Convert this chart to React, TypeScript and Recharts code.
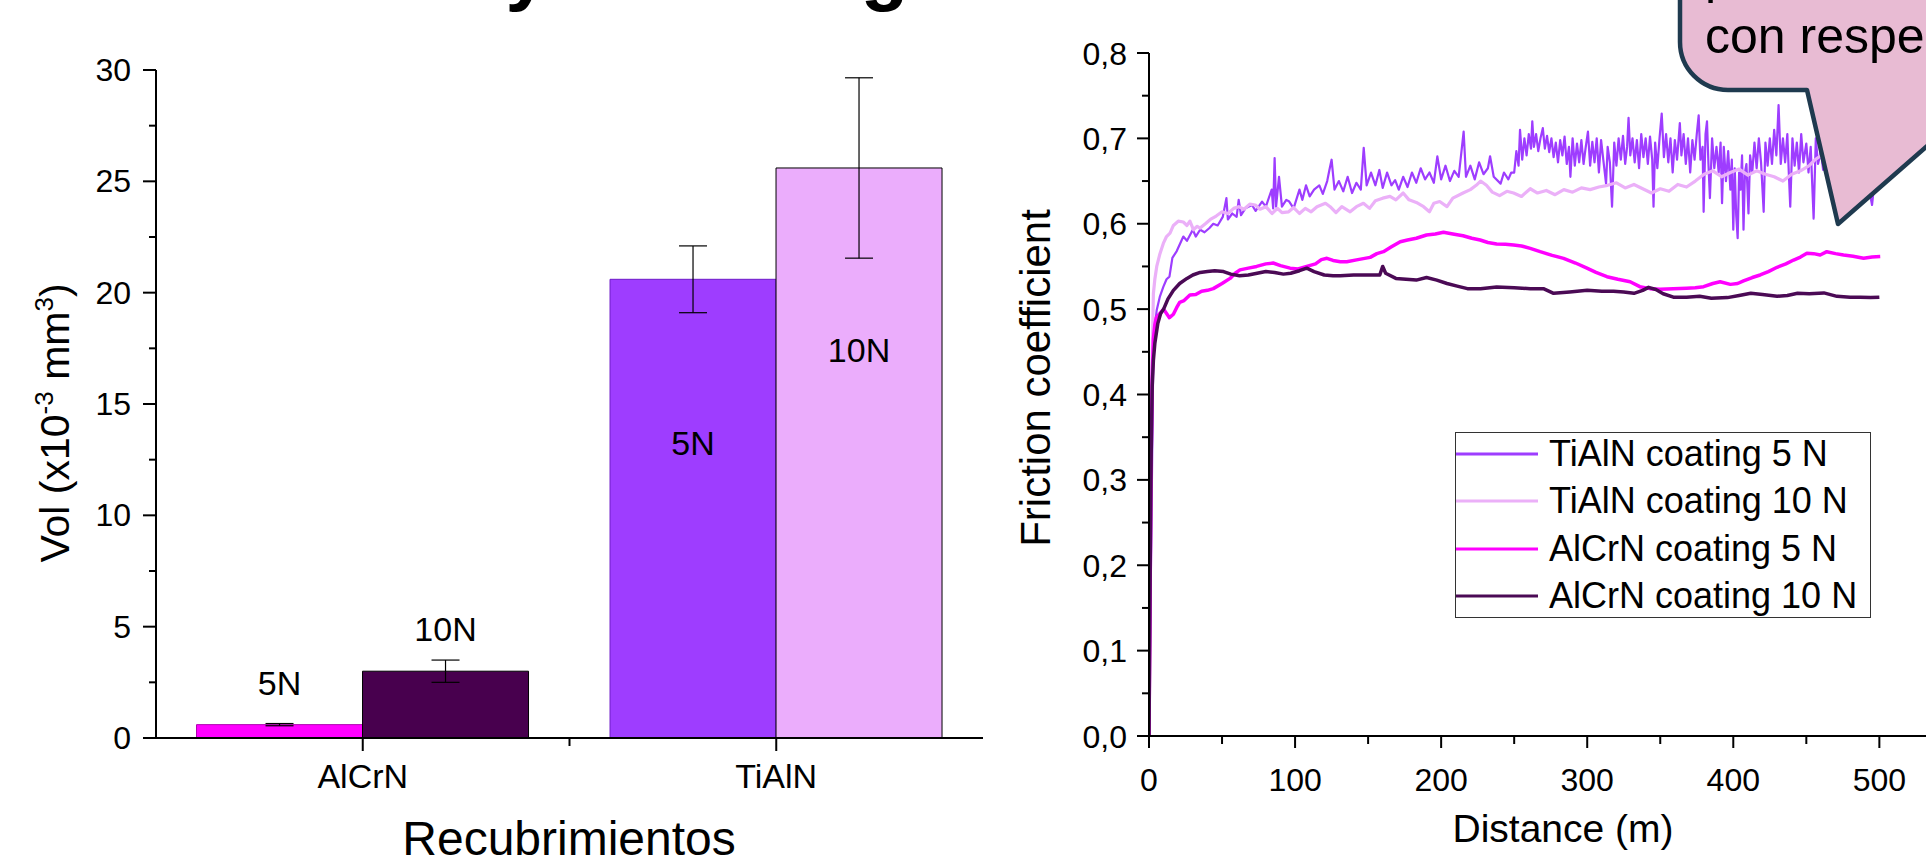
import React from 'react';
import { BarChart, Bar, Cell, ErrorBar, LabelList, LineChart, Line, XAxis, YAxis, Legend } from 'recharts';

const FONT = '"Liberation Sans", Arial, Helvetica, sans-serif';

// wear volume, x10^-3 mm^3
const coatings = ['AlCrN', 'TiAlN'];
const vol5N = [0.6, 20.6];
const vol10N = [3.0, 25.6];
const err5N = [0.05, 1.5];
const err10N = [0.5, 4.05];
const volTicks = [0, 2.5, 5, 7.5, 10, 12.5, 15, 17.5, 20, 22.5, 25, 27.5, 30];

// friction coefficient vs distance (m)
const distTicks = [0, 50, 100, 150, 200, 250, 300, 350, 400, 450, 500, 550];
const frictionTicks = [0, 0.05, 0.1, 0.15, 0.2, 0.25, 0.3, 0.35, 0.4, 0.45, 0.5, 0.55, 0.6, 0.65, 0.7, 0.75, 0.8];
const seriesNames = ['TiAlN coating 5 N', 'TiAlN coating 10 N', 'AlCrN coating 5 N', 'AlCrN coating 10 N'];

const tialn5N: [number, number][] = [
  [0, 0], [1, 0.15], [2, 0.3], [3, 0.457], [4, 0.48], [5.3, 0.499], [7.5, 0.515], [9.8, 0.526], [12, 0.535], [14, 0.538],
  [16, 0.56], [19, 0.568], [23.5, 0.585], [26, 0.58], [30, 0.593], [32, 0.585], [35, 0.593], [38, 0.59], [41.4, 0.595], [44, 0.6],
  [47, 0.598], [50.5, 0.608], [53, 0.63], [54, 0.605], [57, 0.612], [60, 0.608], [61.4, 0.628], [63, 0.61], [66, 0.618], [70.5, 0.622],
  [73, 0.615], [77.4, 0.626], [80, 0.62], [84, 0.64], [85, 0.618], [86, 0.677], [87, 0.62], [89, 0.655], [91, 0.62], [94, 0.628],
  [96, 0.626], [99, 0.618], [103, 0.64], [105, 0.628], [107.5, 0.645], [110, 0.632], [113, 0.64], [116.6, 0.645], [119, 0.635], [122, 0.65],
  [123.5, 0.663], [125, 0.675], [127, 0.64], [130, 0.65], [133, 0.638], [136, 0.655], [139, 0.636], [142, 0.648], [145, 0.64], [147, 0.689],
  [149, 0.645], [152, 0.66], [155, 0.645], [157.7, 0.663], [160, 0.642], [163, 0.66], [166, 0.645], [168.5, 0.651], [171, 0.64], [174, 0.655],
  [177, 0.643], [180, 0.66], [183, 0.648], [186, 0.665], [189, 0.652], [192, 0.66], [195, 0.648], [197.4, 0.679], [200, 0.652], [203, 0.668],
  [206, 0.65], [209, 0.662], [212, 0.655], [215.4, 0.708], [217, 0.655], [220, 0.668], [223, 0.652], [226, 0.672], [229, 0.658], [232, 0.665],
  [233.5, 0.679], [236, 0.655], [240.7, 0.647], [243, 0.66], [246, 0.652], [248, 0.66],
  [250, 0.66], [251.5, 0.685], [253, 0.668], [254, 0.71], [255.5, 0.675], [257, 0.7], [258.5, 0.68], [260, 0.705], [261.5, 0.688], [262.4, 0.72],
  [263.5, 0.69], [265, 0.705], [266.5, 0.685], [268, 0.7], [269.6, 0.712], [271, 0.688], [272.5, 0.703], [274, 0.684], [275.5, 0.7], [277, 0.678],
  [278.5, 0.695], [280, 0.672], [281.5, 0.698], [283, 0.68], [284.5, 0.702], [286, 0.67], [287.5, 0.69], [288.5, 0.655], [290, 0.7], [291.5, 0.668],
  [293, 0.694], [294.5, 0.672], [296, 0.698], [297.5, 0.67], [299, 0.69], [300.5, 0.708], [302, 0.668], [303.5, 0.696], [305, 0.672], [306.5, 0.7],
  [308, 0.66], [309.5, 0.698], [311, 0.675], [312.9, 0.647], [314, 0.69], [315.5, 0.672], [317, 0.62], [318.5, 0.695], [320, 0.668], [321.5, 0.7],
  [323, 0.675], [324.5, 0.703], [326, 0.67], [327.3, 0.69], [328.3, 0.724], [329.5, 0.68], [331, 0.7], [332.5, 0.672], [334, 0.698], [335.5, 0.665],
  [337, 0.705], [338.5, 0.678], [340, 0.7], [341.5, 0.67], [343, 0.702], [344.5, 0.675], [345.4, 0.62], [346.5, 0.695], [348, 0.665], [349.5, 0.7],
  [351, 0.729], [352.5, 0.678], [354, 0.705], [355.5, 0.672], [357, 0.7], [358.5, 0.66], [360, 0.698], [361.5, 0.675], [363.4, 0.718], [364.5, 0.68],
  [366, 0.705], [367.5, 0.67], [369, 0.7], [370.5, 0.66], [372, 0.698], [373.5, 0.675], [375, 0.705], [376.3, 0.727], [377.5, 0.675], [379, 0.69],
  [379.7, 0.614], [381, 0.705], [382, 0.72], [383, 0.67], [384, 0.63], [385.5, 0.7], [387, 0.665], [388.5, 0.69], [390, 0.66], [391.3, 0.695],
  [392.3, 0.624], [393.5, 0.69], [395, 0.65], [396.5, 0.685], [398, 0.64], [399, 0.675], [400, 0.593], [401, 0.665], [402, 0.61], [403, 0.583],
  [404, 0.66], [405, 0.64], [406, 0.68], [407, 0.593], [408, 0.66], [409, 0.67], [410.4, 0.612], [411.5, 0.68], [413, 0.66], [414.5, 0.695],
  [416, 0.665], [417.5, 0.7], [419, 0.672], [420.8, 0.614], [422, 0.695], [423.5, 0.668], [425, 0.7], [426.5, 0.67], [428, 0.71], [429.5, 0.68],
  [431, 0.739], [432.5, 0.67], [434, 0.7], [435.5, 0.672], [437, 0.705], [438, 0.66], [439, 0.62], [440.5, 0.7], [442, 0.668], [443.5, 0.695],
  [445, 0.66], [446.5, 0.705], [448, 0.672], [450, 0.694], [451.5, 0.66], [453, 0.69], [455, 0.606], [456.5, 0.7], [458, 0.67], [460, 0.685],
  [461.5, 0.663], [463, 0.69], [465, 0.655], [467, 0.68], [469, 0.64], [471, 0.678], [473, 0.65], [475, 0.672], [477, 0.645], [479, 0.675],
  [481, 0.65], [483, 0.668], [485, 0.64], [487, 0.665], [489, 0.648], [491, 0.66], [493, 0.64], [495, 0.622], [497, 0.655], [499, 0.64], [500, 0.66],
];

const tialn10N: [number, number][] = [
  [0, 0], [0.8, 0.15], [1.5, 0.33], [2, 0.43], [3, 0.518], [4, 0.535], [5.3, 0.55], [7.5, 0.565], [9.8, 0.577], [12, 0.585],
  [14.4, 0.589], [16.7, 0.598], [20, 0.603], [23.5, 0.602], [26, 0.598], [28, 0.603], [30.4, 0.593], [33, 0.597], [35, 0.595], [38.6, 0.6],
  [42, 0.605], [46, 0.609], [50, 0.614], [54, 0.612], [58, 0.618], [61.4, 0.62], [65, 0.617], [69, 0.623], [72.8, 0.622], [76, 0.617],
  [80, 0.62], [84.2, 0.612], [88, 0.618], [91, 0.613], [95.6, 0.614], [99, 0.619], [103, 0.612], [107, 0.618], [111, 0.614], [115, 0.62],
  [120.8, 0.624], [124, 0.62], [128, 0.613], [132, 0.62], [137.7, 0.614], [142, 0.62], [146.8, 0.624], [151, 0.618], [155, 0.627], [160, 0.63],
  [165, 0.632], [169, 0.628], [174, 0.636], [178, 0.628], [183, 0.625], [188, 0.62], [192, 0.614], [195, 0.624], [199, 0.626], [204, 0.62],
  [208, 0.63], [215, 0.636], [220, 0.64], [224, 0.645], [227, 0.65], [231, 0.645], [235, 0.637], [240, 0.633], [245, 0.638], [249.6, 0.636],
  [255, 0.632], [261, 0.641], [266, 0.636], [272, 0.639], [278, 0.634], [284, 0.64], [290, 0.637], [296, 0.642], [302, 0.64], [308, 0.643],
  [314, 0.645], [320, 0.648], [326, 0.642], [332, 0.646], [338, 0.641], [344, 0.636], [350, 0.641], [356, 0.638], [362, 0.646], [368, 0.643],
  [374, 0.65], [380, 0.658], [386, 0.662], [392, 0.655], [398, 0.66], [404, 0.664], [410, 0.657], [416, 0.662], [422, 0.658], [428, 0.655],
  [434, 0.65], [440, 0.658], [446, 0.662], [452, 0.668], [456, 0.675], [460, 0.68], [464, 0.672], [470, 0.668], [476, 0.665], [482, 0.66],
  [488, 0.663], [494, 0.658], [500, 0.66],
];

const alcrn5N: [number, number][] = [
  [0, 0], [0.8, 0.18], [1.5, 0.33], [2.2, 0.42], [3, 0.465], [4, 0.482], [5, 0.49], [7.5, 0.495], [10, 0.5], [12, 0.495],
  [14, 0.49], [16.7, 0.494], [19, 0.502], [21, 0.508], [24, 0.51], [28, 0.5165], [32, 0.517], [36, 0.521], [40, 0.522], [44, 0.524],
  [50, 0.53], [55.5, 0.536], [59, 0.542], [62.3, 0.546], [68, 0.548], [73.7, 0.55], [80, 0.553], [85, 0.554], [90, 0.551], [96.6, 0.548],
  [102, 0.547], [108, 0.55], [114, 0.553], [118, 0.558], [121.8, 0.5595], [126, 0.557], [131, 0.5556], [135.4, 0.5556], [143, 0.558], [151.4, 0.5606],
  [156, 0.565], [160.5, 0.5673], [166, 0.573], [172, 0.579], [177, 0.581], [183, 0.583], [190, 0.5868], [196, 0.588], [201.6, 0.59], [208, 0.588],
  [215, 0.586], [221, 0.583], [226.7, 0.581], [232, 0.578], [238, 0.5763], [244, 0.576], [249.6, 0.575], [255, 0.574], [261, 0.5712], [267.8, 0.5673],
  [276, 0.563], [283.8, 0.5595], [292, 0.554], [299.8, 0.548], [306, 0.543], [313.5, 0.538], [321, 0.535], [329.4, 0.532], [336, 0.5263], [343, 0.524],
  [350, 0.5232], [359, 0.524], [368, 0.5245], [374, 0.525], [379.7, 0.5263], [386, 0.53], [391, 0.532], [398, 0.529], [403, 0.53], [407, 0.533],
  [413, 0.537], [418.4, 0.54], [424, 0.544], [430, 0.549], [436, 0.553], [441.3, 0.5575], [446, 0.561], [450.4, 0.5654], [455, 0.565], [459.5, 0.5634],
  [464, 0.5673], [470, 0.565], [475.5, 0.5634], [482, 0.562], [489.2, 0.5595], [495, 0.561], [500.6, 0.5615],
];

const alcrn10N: [number, number][] = [
  [0, 0], [0.8, 0.2], [1.5, 0.33], [2.2, 0.41], [3, 0.44], [4, 0.46], [6, 0.483], [8, 0.495], [10, 0.5], [13, 0.512],
  [16.7, 0.522], [21, 0.53], [26, 0.536], [30, 0.54], [35, 0.543], [40, 0.544], [45, 0.545], [51, 0.544], [56, 0.541], [62, 0.539],
  [68, 0.54], [74, 0.542], [80, 0.544], [86, 0.543], [92, 0.541], [97, 0.542], [103, 0.545], [108, 0.548], [113, 0.544], [120, 0.54],
  [126, 0.539], [131, 0.539], [140, 0.54], [150, 0.54], [158, 0.54], [160, 0.55], [162, 0.542], [169, 0.536], [176, 0.535], [183, 0.534],
  [190, 0.537], [197, 0.534], [204, 0.53], [211, 0.527], [218, 0.524], [227, 0.524], [238, 0.526], [250, 0.525], [261, 0.524], [270, 0.524],
  [277, 0.5185], [288, 0.52], [300, 0.522], [310, 0.521], [318, 0.521], [325, 0.52], [332, 0.5185], [338, 0.522], [342, 0.5255], [347, 0.523],
  [352, 0.518], [359, 0.514], [368, 0.514], [377, 0.515], [385, 0.5128], [396, 0.5135], [404, 0.516], [412, 0.5185], [420, 0.517], [430, 0.515],
  [437, 0.516], [444, 0.5185], [452, 0.518], [462, 0.519], [471, 0.515], [480, 0.514], [487, 0.514], [494, 0.5135], [500, 0.514],
];

const volData = coatings.map((c, i) => ({ coating: c, n5: vol5N[i], n10: vol10N[i], e5: err5N[i], e10: err10N[i] }));
const toPoints = (rows: [number, number][]) => rows.map(([d, v]) => ({ d, v }));

const fill5N = ['#FF00FF', '#9E3DFF'];
const edge5N = ['#B000B0', '#6E1BC9'];
const fill10N = ['#48004E', '#EBADFC'];
const lineColors = ['#9E3DFF', '#EBB0F8', '#FF00FF', '#4B0A55'];
const lineWidths = [2.2, 3.2, 3.5, 3.5];
const frictionSeries = [tialn5N, tialn10N, alcrn5N, alcrn10N];

const HALF_BAND = 206.75;

const VolTick = (props: any) => {
  const { x, y, payload } = props;
  const v = payload.value;
  const major = v % 5 === 0;
  return (
    <g>
      <line x1={x} y1={y} x2={x - (major ? 13 : 7)} y2={y} stroke="#000" strokeWidth={2} />
      {major && (
        <text x={x - 25} y={y + 11} textAnchor="end" fontSize={32} fontFamily={FONT} fill="#000">{v}</text>
      )}
    </g>
  );
};

const CoatingTick = (props: any) => {
  const { x, y, payload, index } = props;
  return (
    <g>
      <line x1={x} y1={y} x2={x} y2={y + 13} stroke="#000" strokeWidth={2} />
      {index === 0 && <line x1={x + HALF_BAND} y1={y} x2={x + HALF_BAND} y2={y + 8} stroke="#000" strokeWidth={2} />}
      <text x={x} y={y + 50} textAnchor="middle" fontSize={34} fontFamily={FONT} fill="#000">{payload.value}</text>
    </g>
  );
};

const VolLabel = () => (
  <text transform="rotate(-90)" x={-423} y={69} textAnchor="middle" fontSize={41} fontFamily={FONT} fill="#000">
    Vol (x10<tspan dy={-16} fontSize={26}>-3</tspan><tspan dy={16} fontSize={41}> mm</tspan><tspan dy={-16} fontSize={26}>3</tspan><tspan dy={16} fontSize={41}>)</tspan>
  </text>
);

const CoatingLabel = () => (
  <text x={569} y={855} textAnchor="middle" fontSize={48} fontFamily={FONT} fill="#000">Recubrimientos</text>
);

const BarNote = (props: any) => {
  const { x, y, width, index, text, inside } = props;
  const ty = index === 0 ? Number(y) - 30 : Number(y) + inside;
  return (
    <text x={Number(x) + Number(width) / 2} y={ty} textAnchor="middle" fontSize={34} fontFamily={FONT} fill="#000">{text}</text>
  );
};

const FrictionTick = (props: any) => {
  const { x, y, payload } = props;
  const v = payload.value;
  const major = Math.round(v * 100) % 10 === 0;
  return (
    <g>
      <line x1={x} y1={y} x2={x - (major ? 12 : 7)} y2={y} stroke="#000" strokeWidth={2} />
      {major && (
        <text x={x - 22} y={y + 11.5} textAnchor="end" fontSize={32} fontFamily={FONT} fill="#000">{v.toFixed(1).replace('.', ',')}</text>
      )}
    </g>
  );
};

const DistTick = (props: any) => {
  const { x, y, payload } = props;
  const v = payload.value;
  const major = v % 100 === 0;
  return (
    <g>
      <line x1={x} y1={y} x2={x} y2={y + (major ? 12 : 8)} stroke="#000" strokeWidth={2} />
      {major && (
        <text x={x} y={y + 54.6} textAnchor="middle" fontSize={32} fontFamily={FONT} fill="#000">{v}</text>
      )}
    </g>
  );
};

const FrictionLabel = () => (
  <text transform="rotate(-90)" x={-378} y={50} textAnchor="middle" fontSize={42} fontFamily={FONT} fill="#000">Friction coefficient</text>
);

const DistLabel = () => (
  <text x={563} y={842} textAnchor="middle" fontSize={39} fontFamily={FONT} fill="#000">Distance (m)</text>
);

const FrictionLegend = () => (
  <div style={{ width: 416, height: 186, border: '1.5px solid #333', boxSizing: 'border-box', background: '#fff', fontFamily: FONT, fontSize: 36, position: 'relative', color: '#000' }}>
    {seriesNames.map((name, i) => (
      <div key={name} style={{ position: 'absolute', left: 0, top: i * 47.3 - 1, height: 44, display: 'flex', alignItems: 'center' }}>
        <svg width={82} height={6} style={{ display: 'block' }}>
          <line x1={0} y1={3} x2={82} y2={3} stroke={lineColors[i]} strokeWidth={3} />
        </svg>
        <span style={{ marginLeft: 11, lineHeight: '44px', whiteSpace: 'nowrap' }}>{name}</span>
      </div>
    ))}
  </div>
);

export default function App() {
  return (
    <div style={{ position: 'absolute', left: 0, top: 0, width: 1926, height: 855, overflow: 'hidden', background: '#fff' }}>
      <svg width={1926} height={855} style={{ position: 'absolute', left: 0, top: 0 }}>
        <text x={319} y={-4} fontSize={78} fontWeight="bold" fontFamily={FONT} fill="#000">Ensayo tribológico</text>
      </svg>

      <div style={{ position: 'absolute', left: 0, top: 0 }}>
        <BarChart width={1000} height={855} data={volData} margin={{ top: 70, right: 17, bottom: 0, left: 0 }} barCategoryGap="9.8%" barGap={0}>
          <XAxis dataKey="coating" tick={<CoatingTick />} tickLine={false} tickSize={0} tickMargin={0} interval={0}
            axisLine={{ stroke: '#000', strokeWidth: 2 }} height={117} label={<CoatingLabel />} />
          <XAxis xAxisId="top" orientation="top" dataKey="coating" tick={false} tickLine={false} height={0}
            axisLine={{ stroke: '#000', strokeWidth: 2 }} />
          <YAxis domain={[0, 30]} ticks={volTicks} interval={0} tick={<VolTick />} tickLine={false} tickSize={0} tickMargin={0}
            axisLine={{ stroke: '#000', strokeWidth: 2 }} width={156} label={<VolLabel />} />
          <YAxis yAxisId="right" orientation="right" domain={[0, 30]} tick={false} tickLine={false} width={0}
            axisLine={{ stroke: '#000', strokeWidth: 2 }} />
          <Bar dataKey="n5" isAnimationActive={false} strokeWidth={1}>
            {volData.map((d, i) => <Cell key={d.coating} fill={fill5N[i]} stroke={edge5N[i]} />)}
            <ErrorBar dataKey="e5" width={14} stroke="#000" strokeWidth={1.2} />
            <LabelList dataKey="n5" content={<BarNote text="5N" inside={176} />} />
          </Bar>
          <Bar dataKey="n10" isAnimationActive={false} stroke="#000" strokeWidth={1}>
            {volData.map((d, i) => <Cell key={d.coating} fill={fill10N[i]} />)}
            <ErrorBar dataKey="e10" width={14} stroke="#000" strokeWidth={1.2} />
            <LabelList dataKey="n10" content={<BarNote text="10N" inside={193.6} />} />
          </Bar>
        </BarChart>
      </div>

      <div style={{ position: 'absolute', left: 1000, top: 0 }}>
        <LineChart width={1000} height={855} margin={{ top: 53, right: 33, bottom: 0, left: 0 }}>
          <XAxis xAxisId="b" dataKey="d" type="number" domain={[0, 560]} ticks={distTicks} interval={0} tick={<DistTick />}
            tickLine={false} tickSize={0} tickMargin={0} axisLine={{ stroke: '#000', strokeWidth: 2 }} height={119}
            label={<DistLabel />} allowDataOverflow />
          <XAxis xAxisId="t" orientation="top" type="number" domain={[0, 560]} tick={false} tickLine={false} height={0}
            axisLine={{ stroke: '#000', strokeWidth: 2 }} allowDataOverflow />
          <YAxis domain={[0, 0.8]} ticks={frictionTicks} interval={0} tick={<FrictionTick />} tickLine={false} tickSize={0}
            tickMargin={0} axisLine={{ stroke: '#000', strokeWidth: 2 }} width={149} label={<FrictionLabel />} allowDataOverflow />
          <Legend layout="vertical" align="center" verticalAlign="middle" content={() => <FrictionLegend />}
            wrapperStyle={{ left: 455, top: 432, width: 416, height: 186 }} />
          {frictionSeries.map((rows, i) => (
            <Line key={seriesNames[i]} xAxisId="b" data={toPoints(rows)} dataKey="v" name={seriesNames[i]} type="linear"
              stroke={lineColors[i]} strokeWidth={lineWidths[i]} dot={false} isAnimationActive={false} strokeLinejoin="round" />
          ))}
        </LineChart>
      </div>

      {/* callout bubble overlapping the top right */}
      <svg width={1926} height={855} style={{ position: 'absolute', left: 0, top: 0, pointerEvents: 'none' }}>
        <path d="M 1680 -60 L 1680 42 A 48 48 0 0 0 1728 90 L 1807 90 L 1838 224 L 1991 90 L 2100 90 L 2100 -60 Z"
          fill="#E8BBD3" stroke="#1F3A4F" strokeWidth={4.5} strokeLinejoin="round" />
        <text x={1705} y={-7.5} fontSize={50} fontFamily={FONT} fill="#000">presenta mayor fricción</text>
        <text x={1705} y={53} fontSize={50} fontFamily={FONT} fill="#000">con respecto al AlCrN</text>
      </svg>
    </div>
  );
}
